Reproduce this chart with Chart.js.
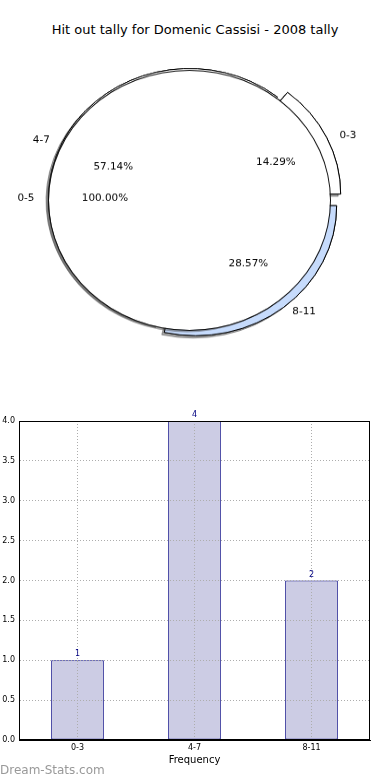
<!DOCTYPE html>
<html><head><meta charset="utf-8">
<script src="https://cdn.jsdelivr.net/npm/chart.js@4/dist/chart.umd.min.js"></script>
<style>
html,body{margin:0;padding:0;background:#fff;width:390px;height:780px;overflow:hidden;font-family:"DejaVu Sans",sans-serif;}
#title{position:absolute;left:0;top:21px;width:390px;text-align:center;font-size:13px;line-height:18px;color:#000;}
#pieWrap{position:absolute;left:0;top:0;width:390px;height:400px;transform-origin:189.5px 199px;transform:scaleY(0.922);}
#pieWrap canvas{position:absolute;left:0;top:0;}
#bar{position:absolute;left:0;top:400px;}
#wm{position:absolute;left:0;top:762px;font-size:12px;line-height:16px;color:#999;}
</style></head><body>
<div id="title">Hit out tally for Domenic Cassisi - 2008 tally</div>
<div id="pieWrap"><canvas id="pieSlices" width="390" height="400"></canvas><canvas id="pieTotal" width="390" height="400"></canvas></div>
<canvas id="bar" width="390" height="380"></canvas>
<div id="wm">Dream-Stats.com</div>
<script>
// ---- data ----
const categories = ['0-3', '4-7', '8-11'];
const hitOuts = [1, 4, 2];
const totalLabels = ['0-5'];
const totalValues = [1];
const yTickLabels = ['0.0','0.5','1.0','1.5','2.0','2.5','3.0','3.5','4.0'];

// ---- styles ----
const PIE_RADIUS = 141;
const PIE_Y_SCALE = 0.922;
const LABEL_Y_FACTOR = 0.95;
const explodeByCat = {'0-3': 0.08, '4-7': 0.0, '8-11': 0.07};
const colorByCat = {'0-3': '#ffffff', '4-7': '#ffffff', '8-11': '#c6dbfc'};
const FONT = '"DejaVu Sans", sans-serif';
Chart.defaults.font.family = FONT;

// matplotlib draws counter-clockwise from 3 o'clock; Chart.js draws clockwise, so reverse
const order = categories.map((_, i) => i).reverse();
const sliceLabels = order.map(i => categories[i]);
const sliceValues = order.map(i => hitOuts[i]);
const sliceColors = sliceLabels.map(c => colorByCat[c]);
const sliceExplode = sliceLabels.map(c => explodeByCat[c]);
const total = hitOuts.reduce((a, b) => a + b, 0);

const SHADOW = {color: 'rgba(77,77,77,0.5)', dx: -2.5, dy: 2.5};

const explodePlugin = {
  id: 'explode',
  beforeDatasetDraw(chart, args) {
    const ctx = chart.ctx;
    const arcs = args.meta.data;
    const pass = (shadow) => arcs.forEach((arc, i) => {
      const mid = (arc.startAngle + arc.endAngle) / 2;
      const d = sliceExplode[i] * arc.outerRadius;
      ctx.save();
      ctx.translate(Math.cos(mid) * d, Math.sin(mid) * d);
      if (shadow) {
        ctx.shadowColor = SHADOW.color;
        ctx.shadowOffsetX = SHADOW.dx; ctx.shadowOffsetY = SHADOW.dy; ctx.shadowBlur = 0;
      }
      arc.draw(ctx);
      ctx.restore();
    });
    pass(true); pass(false);
    return false;
  }
};

const slicesChart = new Chart(document.getElementById('pieSlices'), {
  type: 'pie',
  data: {labels: sliceLabels, datasets: [{data: sliceValues, backgroundColor: sliceColors, borderColor: '#000', borderWidth: 1}]},
  options: {
    responsive: false, animation: false, rotation: 90, radius: PIE_RADIUS,
    layout: {padding: {left: 0, right: 11, top: 0, bottom: 3}},
    plugins: {legend: {display: false}, tooltip: {enabled: false}}
  },
  plugins: [explodePlugin]
});

const shadowPlugin = {
  id: 'diskShadow',
  beforeDatasetDraw(chart, args) {
    if (args.index === 1) {
      const ctx = chart.ctx;
      ctx.save();
      ctx.shadowColor = SHADOW.color;
      ctx.shadowOffsetX = SHADOW.dx; ctx.shadowOffsetY = SHADOW.dy; ctx.shadowBlur = 0;
    }
  },
  afterDatasetDraw(chart, args) {
    if (args.index === 1) chart.ctx.restore();
  }
};

const pieLabelPlugin = {
  id: 'pieLabels',
  afterDraw(chart) {
    const ctx = chart.ctx;
    ctx.save();
    ctx.font = '10.4px ' + FONT;
    ctx.fillStyle = '#000';
    ctx.textBaseline = 'middle';
    const put = (text, x, y, align) => {
      ctx.save();
      ctx.translate(x, y);
      ctx.scale(1, 1 / PIE_Y_SCALE);
      ctx.textAlign = align;
      ctx.fillText(text, 0, 0);
      ctx.restore();
    };
    const sArcs = slicesChart.getDatasetMeta(0).data;
    const cx = sArcs[0].x, cy = sArcs[0].y;
    const label = (arc, name, value, sum, expl) => {
      const mid = (arc.startAngle + arc.endAngle) / 2;
      const c = Math.cos(mid), s = Math.sin(mid) * LABEL_Y_FACTOR;
      const r = PIE_RADIUS;
      put(name, cx + (1.1 + expl) * r * c, cy + (1.1 + expl) * r * s, c > 0 ? 'left' : 'right');
      put((value / sum * 100).toFixed(2) + '%', cx + (0.6 + expl) * r * c, cy + (0.6 + expl) * r * s, 'center');
    };
    sArcs.forEach((arc, i) => label(arc, sliceLabels[i], sliceValues[i], total, sliceExplode[i]));
    const tSum = totalValues.reduce((a, b) => a + b, 0);
    chart.getDatasetMeta(0).data.forEach((arc, i) => label(arc, totalLabels[i], totalValues[i], tSum, 0));
    ctx.restore();
  }
};

new Chart(document.getElementById('pieTotal'), {
  type: 'pie',
  data: {labels: totalLabels, datasets: [
    {data: totalValues, backgroundColor: '#111', borderWidth: 0, weight: 1},
    {data: totalValues, backgroundColor: '#fff', borderWidth: 0, weight: 140}
  ]},
  options: {
    responsive: false, animation: false, rotation: 90, radius: PIE_RADIUS + 0.5,
    layout: {padding: {left: 0, right: 11, top: 1, bottom: 0}},
    plugins: {legend: {display: false}, tooltip: {enabled: false}}
  },
  plugins: [shadowPlugin, pieLabelPlugin]
});

// ---- bar chart ----
const barDecor = {
  id: 'barDecor',
  afterDraw(chart) {
    const ctx = chart.ctx;
    const a = chart.chartArea;
    ctx.save();
    ctx.strokeStyle = '#000';
    ctx.lineWidth = 1;
    ctx.setLineDash([]);
    ctx.strokeRect(Math.round(a.left) + 0.5, Math.round(a.top) + 0.5, Math.round(a.right - a.left) - 1, Math.round(a.bottom - a.top) - 1);
    ctx.font = '8px ' + FONT;
    ctx.fillStyle = '#000080';
    ctx.textAlign = 'center';
    ctx.textBaseline = 'alphabetic';
    chart.getDatasetMeta(0).data.forEach((bar, i) => {
      ctx.fillText(String(hitOuts[i]), bar.x, bar.y - 4);
    });
    ctx.restore();
  }
};

const gridStyle = {color: '#adadad', lineWidth: 1, drawTicks: false, z: 1};
const borderStyle = {color: '#000', z: 2, dash: [1, 2]};

new Chart(document.getElementById('bar'), {
  type: 'bar',
  data: {labels: categories, datasets: [{
    data: hitOuts, backgroundColor: 'rgb(204,204,228)', borderColor: '#000080', borderWidth: 1,
    borderSkipped: false, barPercentage: 0.45, categoryPercentage: 1
  }]},
  options: {
    responsive: false, animation: false,
    layout: {padding: {top: 21, right: 20, left: 0, bottom: 0}},
    plugins: {legend: {display: false}, tooltip: {enabled: false}},
    scales: {
      x: {
        offset: true,
        grid: Object.assign({offset: false}, gridStyle),
        border: borderStyle,
        ticks: {font: {size: 8}, color: '#000', padding: 3, maxRotation: 0},
        title: {display: true, text: 'Frequency', font: {size: 10}, color: '#000', padding: {top: 0, bottom: 14}},
        afterFit: (s) => { s.height = 40; }
      },
      y: {
        min: 0, max: 4,
        grid: gridStyle,
        border: borderStyle,
        ticks: {stepSize: 0.5, font: {size: 8}, color: '#000', padding: 4, callback: (v, i) => yTickLabels[i]},
        afterFit: (s) => { s.width = 19; }
      }
    }
  },
  plugins: [barDecor]
});
</script>
</body></html>
